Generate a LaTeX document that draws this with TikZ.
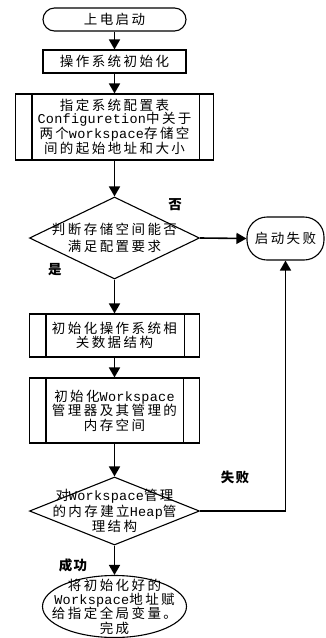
\documentclass[tikz,border=0pt]{standalone}
\usepackage{fontspec}
\usetikzlibrary{shapes.geometric,arrows.meta}
\newfontfamily\cjk[LetterSpace=18]{Noto Sans CJK SC}
\newfontfamily\cjklab[LetterSpace=8]{Noto Sans CJK SC}
\newfontfamily\mono[LetterSpace=2]{Liberation Mono}
\newcommand\lat[1]{{\mono #1}}
\begin{document}
\begin{tikzpicture}[x=1pt,y=-1pt,
  txt/.style={align=center,inner sep=0pt,font=\cjk\fontsize{13.5}{14.5}\selectfont},
  box/.style={draw,line width=1.1pt,inner sep=0pt,align=center,font=\cjk\fontsize{13.5}{14.5}\selectfont},
  terminal/.style={box,rounded corners=11.5pt,minimum width=143pt,minimum height=23pt},
  proc/.style={box,minimum width=143pt,minimum height=23pt},
  predef/.style={box},
  dec/.style={draw,line width=1.1pt,diamond,inner sep=0pt,minimum width=170pt},
  endell/.style={draw,line width=1.1pt,ellipse,inner sep=0pt,minimum width=144pt,minimum height=62pt},
  conn/.style={line width=1.6pt,-{Triangle[length=10pt,width=11pt]}},
  lab/.style={inner sep=0pt,font=\cjklab\bfseries\fontsize{13.5}{14}\selectfont}
]
\useasboundingbox (0,0) rectangle (325,638);

\node[terminal] (start) at (114.5,19.5) {上电启动};
\node[proc] (init) at (114.5,61.5) {操作系统初始化};
\node[predef,minimum width=198pt,minimum height=66pt,font=\cjk\fontsize{13.5}{12.8}\selectfont] (cfg) at (114.5,127)
  {指定系统配置表\\\lat{Configuretion}中关于\\两个\lat{workspace}存储空\\间的起始地址和大小};
\draw[line width=1.1pt] ([xshift=17pt]cfg.north west) -- ([xshift=17pt]cfg.south west)
  ([xshift=-15pt]cfg.north east) -- ([xshift=-15pt]cfg.south east);

\node[dec,minimum height=82pt,label={[txt,font=\cjk\fontsize{13.5}{16.5}\selectfont]center:判断存储空间能否\\满足配置要求}] (dec1) at (114.5,238) {};

\node[box,rounded corners=20pt,minimum width=77pt,minimum height=43pt] (fail) at (285.5,238.5) {启动失败};

\node[predef,minimum width=170pt,minimum height=43pt] (ds) at (114.5,335.5) {初始化操作系统相\\关数据结构};
\draw[line width=1.1pt] ([xshift=17pt]ds.north west) -- ([xshift=17pt]ds.south west)
  ([xshift=-16pt]ds.north east) -- ([xshift=-16pt]ds.south east);

\node[predef,minimum width=170pt,minimum height=65pt] (ws) at (114.5,410.5) {初始化\lat{Workspace}\\管理器及其管理的\\内存空间};
\draw[line width=1.1pt] ([xshift=17pt]ws.north west) -- ([xshift=17pt]ws.south west)
  ([xshift=-17pt]ws.north east) -- ([xshift=-17pt]ws.south east);

\node[dec,minimum height=68pt,label={[txt,font=\cjk\fontsize{13.5}{15.5}\selectfont]center:对\lat{Workspace}管理\\的内存建立\lat{Heap}管\\理结构}] (dec2) at (114.5,511) {};

\node[endell,label={[txt,font=\cjk\fontsize{13.5}{14.3}\selectfont]center:将初始化好的\\\lat{Workspace}地址赋\\给指定全局变量。\\完成}] (done) at (114.5,606.5) {};

\node[lab] (no) at (175,205) {否};
\node[lab] (yes) at (55,270) {是};
\node[lab] (fl) at (235,477) {失败};
\node[lab] (ok) at (73,565) {成功};

\draw[conn] (start) -- (init);
\draw[conn] (init) -- (cfg);
\draw[conn] (cfg) -- (dec1);
\draw[conn] (dec1.east) -- (fail.west);
\draw[conn] (dec1.south) -- (ds);
\draw[conn] (ds) -- (ws);
\draw[conn] (ws) -- (dec2.north);
\draw[conn] (dec2.east) -| (fail.south);
\draw[conn] (dec2.south) -- (done.north);
\end{tikzpicture}
\end{document}
